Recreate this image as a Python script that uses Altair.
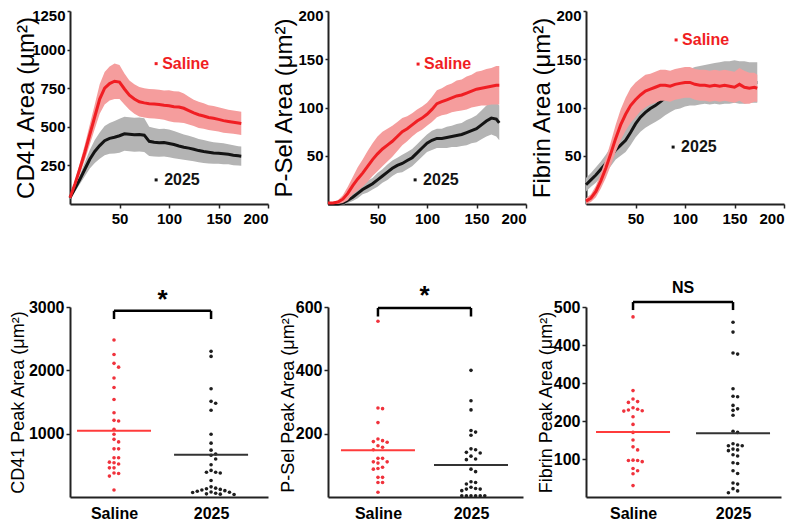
import altair as alt
import pandas as pd

FONT = "Liberation Sans"
RED = "#f01e23"
RED_BAND = "#f59d9d"
GREY_BAND = "#b4b4b4"
BLACK = "#141414"
GROUPS = ["Saline", "2025"]

# ---------------- time courses (time, mean, half-band) ----------------
T = [0, 5, 10, 15, 20, 25, 30, 35, 40, 45, 50, 55, 60, 65, 70, 75, 80, 85, 90, 95,
     100, 105, 110, 115, 120, 125, 130, 135, 140, 145, 150, 155, 160, 165, 170, 173]

cd41_sal_mean = [40, 130, 230, 335, 450, 565, 680, 750, 780, 795, 790, 745, 705, 680, 662, 655, 650, 648, 645, 640,
                 636, 630, 628, 620, 605, 590, 578, 570, 560, 555, 548, 540, 535, 530, 525, 522]
cd41_sal_sem = [10, 20, 35, 50, 65, 80, 95, 105, 110, 115, 110, 100, 95, 95, 95, 95, 95, 95, 95, 95,
                100, 100, 100, 95, 90, 85, 85, 82, 80, 80, 78, 78, 76, 75, 75, 75]
cd41_d_mean = [40, 100, 160, 225, 290, 340, 378, 410, 425, 432, 442, 455, 452, 448, 450, 446, 406, 400, 396, 398,
               392, 385, 376, 368, 362, 355, 346, 340, 335, 330, 328, 325, 322, 316, 312, 310]
cd41_d_sem = [10, 20, 30, 45, 60, 75, 85, 95, 100, 105, 110, 110, 110, 110, 110, 110, 95, 92, 90, 90,
              90, 88, 85, 82, 80, 78, 75, 75, 72, 70, 68, 68, 65, 65, 62, 62]

psel_sal_mean = [1, 1, 2, 5, 11, 19, 26, 32, 39, 46, 52, 57, 61, 65, 70, 75, 78, 82, 86, 89,
                 93, 98, 104, 106, 108, 110, 112, 113, 115, 117, 119, 120, 121, 122, 123, 123]
psel_sal_sem = [1, 1, 2, 4, 7, 9, 12, 14, 16, 17, 18, 18, 17, 16, 15, 14, 13, 12, 12, 12,
                12, 13, 14, 14, 15, 15, 16, 16, 17, 17, 18, 18, 19, 19, 20, 20]
psel_d_mean = [0, 0, 0, 1, 4, 7, 11, 15, 18, 21, 25, 29, 33, 37, 40, 42, 45, 48, 53, 58,
               63, 66, 68, 68, 69, 70, 71, 72, 74, 76, 78, 82, 86, 89, 88, 84]
psel_d_sem = [0.5, 0.5, 1, 2, 3, 4, 5, 5, 6, 6, 7, 7, 8, 8, 8, 9, 9, 9, 9, 9,
              9, 10, 10, 10, 11, 11, 12, 12, 13, 13, 14, 15, 16, 17, 18, 18]

fib_sal_mean = [3, 6, 13, 24, 37, 52, 68, 82, 93, 102, 108, 113, 117, 119, 121, 123, 123, 122, 124, 125,
                126, 126, 124, 123, 123, 122, 123, 122, 123, 122, 121, 124, 121, 120, 121, 120]
fib_sal_sem = [3, 4, 6, 8, 10, 12, 14, 16, 17, 18, 18, 17, 17, 16, 16, 16, 16, 16, 16, 16,
               16, 16, 16, 16, 16, 16, 16, 16, 16, 16, 16, 17, 17, 16, 15, 14]
fib_d_mean = [20, 25, 30, 36, 42, 49, 56, 61, 66, 74, 83, 90, 95, 99, 102, 106, 110, 113, 116, 118,
              120, 121, 122, 123, 124, 124, 125, 125, 126, 126, 127, 126, 126, 126, 126, 126]
fib_d_sem = [7, 7, 8, 8, 9, 10, 10, 11, 12, 13, 14, 15, 16, 17, 17, 18, 18, 18, 18, 19,
             19, 19, 20, 20, 20, 21, 21, 22, 22, 22, 22, 22, 22, 21, 21, 21]

# label anchor points (time, value) for the in-plot labels
cd41_labels = {"Saline": (87, 909), "2025": (87, 156)}
psel_labels = {"Saline": (91, 145), "2025": (88, 25)}
fib_labels = {"Saline": (91, 170), "2025": (88, 59)}

# ---------------- peak areas ----------------
cd41_peak_sal = [2480, 2250, 2110, 2050, 1880, 1730, 1540, 1330, 1210, 1200, 1070, 990, 910, 870,
                 760, 760, 620, 620, 550, 540, 520, 460, 460, 380, 370, 330, 110]
cd41_peak_2025 = [2300, 2220, 1710, 1510, 1480, 1370, 990, 850, 740, 680, 660, 600, 510, 420, 390, 390,
                  380, 260, 160, 140, 130, 120, 110, 100, 90, 80, 75, 70, 60, 50, 45, 40]
psel_peak_sal = [555, 281, 279, 235, 183, 178, 175, 173, 162, 157, 149, 122, 122, 111, 111, 107,
                 94, 90, 88, 62, 62, 46, 46, 15]
psel_peak_2025 = [400, 304, 275, 210, 205, 195, 152, 149, 141, 139, 129, 120, 118, 88, 80, 48, 46, 41,
                  31, 27, 25, 25, 20, 4, 4, 4, 4, 4, 4]
fib_peak_sal = [474, 280, 258, 251, 249, 235, 231, 229, 227, 226, 211, 191, 170, 150, 132, 124,
                97, 96, 96, 93, 75, 69, 61, 30]
fib_peak_2025 = [460, 434, 379, 376, 285, 265, 264, 241, 232, 228, 215, 173, 170, 140, 137, 135, 135,
                 126, 124, 122, 111, 108, 90, 88, 69, 62, 37, 34, 22, 16, 11]

cd41_means = [1048, 667]
psel_means = [148, 101]
fib_means = [171, 168]

# significance annotations: bracket top, bracket tick bottom, text level, text
cd41_sig = (2940, 2810, 3190, "*")
psel_sig = (597, 570, 649, "*")
fib_sig = (513, 492, 550, "NS")


def top_panel(title, ydom, yvals, sm, ss, dm, ds, labels, width=198, height=193):
    df = pd.DataFrame({"t": T, "sm": sm, "ss": ss, "dm": dm, "ds": ds})
    base = alt.Chart(df).transform_calculate(
        slo="datum.sm - datum.ss", shi="datum.sm + datum.ss",
        dlo="datum.dm - datum.ds", dhi="datum.dm + datum.ds")
    xax = alt.Axis(values=[50, 100, 150, 200], title=None, labelFontSize=15,
                   labelPadding=3, tickSize=4, format="d")
    yax = alt.Axis(values=yvals, title=title, titleFontSize=24, labelFontSize=15,
                   labelFlush=True, labelFlushOffset=3, tickSize=3, labelPadding=2,
                   titleX=-44, titleBaseline="middle", format="d")

    def X():
        return alt.X("t:Q", scale=alt.Scale(domain=[0, 200]), axis=xax)

    def Y(f):
        return alt.Y(f, type="quantitative", scale=alt.Scale(domain=ydom), axis=yax)

    gb = base.mark_area(color=GREY_BAND).encode(x=X(), y=Y("dlo"), y2="dhi")
    bl = base.mark_line(color=BLACK, strokeWidth=3).encode(x=X(), y=Y("dm"))
    rb = base.mark_area(color=RED_BAND).encode(x=X(), y=Y("slo"), y2="shi")
    rl = base.mark_line(color=RED, strokeWidth=3).encode(x=X(), y=Y("sm"))
    layers = [gb, bl, rb, rl]
    for name, col, dx in (("Saline", RED, 6), ("2025", BLACK, 8)):
        t, v = labels[name]
        ldf = pd.DataFrame({"t": [t], "v": [v], "txt": [name]})
        lb = alt.Chart(ldf)
        layers.append(lb.mark_square(size=9, color=col, opacity=1).encode(x=X(), y=Y("v")))
        layers.append(lb.mark_text(align="left", baseline="middle", dx=dx, fontSize=16,
                                   fontWeight="bold", font=FONT, color=col)
                      .encode(x=X(), y=Y("v"), text="txt:N"))
    return alt.layer(*layers).properties(width=width, height=height)


def swarm(values, ymax, height, d=4.6):
    ys = [v / ymax * height for v in values]
    order = sorted(range(len(values)), key=lambda i: -values[i])
    placed = []
    offs = [0.0] * len(values)
    cands = [0.0]
    for j in range(1, 12):
        cands += [j * d, -j * d]
    for i in order:
        y = ys[i]
        chosen = cands[-1]
        for c in cands:
            if all((c - ox) ** 2 + (y - oy) ** 2 >= d * d * 0.95 for ox, oy in placed):
                chosen = c
                break
        placed.append((chosen, y))
        offs[i] = chosen
    return offs


def bottom_panel(title, ymax, yvals, sal, d25, means, sig, width, pad, align, title_x,
                 label_expr=None, height=190):
    so = swarm(sal, ymax, height)
    do = swarm(d25, ymax, height)
    pts = pd.DataFrame({"g": ["Saline"] * len(sal) + ["2025"] * len(d25),
                        "v": sal + d25, "off": so + do})
    xax = alt.Axis(title=None, ticks=False, labelFontSize=16, labelPadding=8, labelAngle=0)
    yargs = dict(values=yvals, title=title, titleFontSize=18, labelFontSize=16, tickSize=4,
                 labelPadding=2, titleX=title_x, titleBaseline="middle", format="d")
    if label_expr:
        yargs["labelExpr"] = label_expr
    yax = alt.Axis(**yargs)

    def X(f="g"):
        return alt.X(f, type="nominal",
                     scale=alt.Scale(type="point", domain=GROUPS, padding=pad, align=align),
                     axis=xax)

    def Y(f):
        return alt.Y(f, type="quantitative", scale=alt.Scale(domain=[0, ymax]), axis=yax)

    step = width / (1 + 2 * pad)
    base = alt.Chart(pts)
    rp = base.transform_filter(alt.datum.g == "Saline").mark_circle(
        size=13, color="#f0323c", opacity=1).encode(x=X(), y=Y("v"),
                                                    xOffset=alt.XOffset("off:Q", scale=None))
    bp = base.transform_filter(alt.datum.g == "2025").mark_circle(
        size=13, color="#1e1e1e", opacity=1).encode(x=X(), y=Y("v"),
                                                    xOffset=alt.XOffset("off:Q", scale=None))
    mdf = pd.DataFrame({"g": GROUPS, "m": means})
    mb = alt.Chart(mdf)
    ml_r = mb.transform_filter(alt.datum.g == "Saline").mark_tick(
        size=74, thickness=2, color="#ff3b3b", opacity=1).encode(x=X(), y=Y("m"))
    ml_b = mb.transform_filter(alt.datum.g == "2025").mark_tick(
        size=74, thickness=2, color="#333333", opacity=1).encode(x=X(), y=Y("m"))
    ytop, ybot, ytxt, txt = sig
    hdf = pd.DataFrame({"g": ["Saline"], "g2": ["2025"], "yt": [ytop]})
    hb = alt.Chart(hdf).mark_rule(color="black", strokeWidth=2.5).encode(
        x=X(), x2=alt.X2("g2"), y=Y("yt"))
    vdf = pd.DataFrame({"g": GROUPS, "yt": [ytop, ytop], "yb": [ybot, ybot]})
    vb = alt.Chart(vdf).mark_rule(color="black", strokeWidth=2.5).encode(
        x=X(), y=Y("yt"), y2=alt.Y2("yb"))
    tdf = pd.DataFrame({"g": ["Saline"], "y": [ytxt], "txt": [txt]})
    is_star = txt == "*"
    tt = alt.Chart(tdf).mark_text(dx=step / 2, baseline="middle", font=FONT,
                                  fontSize=26 if is_star else 16, fontWeight="bold",
                                  dy=5 if is_star else 0, color="black").encode(
        x=X(), y=Y("y"), text="txt:N")
    return alt.layer(rp, bp, ml_r, ml_b, hb, vb, tt).properties(width=width, height=height)


a1 = top_panel("CD41 Area (μm²)", [0, 1250], [250, 500, 750, 1000, 1250],
               cd41_sal_mean, cd41_sal_sem, cd41_d_mean, cd41_d_sem, cd41_labels)
a2 = top_panel("P-Sel Area (μm²)", [0, 200], [50, 100, 150, 200],
               psel_sal_mean, psel_sal_sem, psel_d_mean, psel_d_sem, psel_labels)
a3 = top_panel("Fibrin Area (μm²)", [0, 200], [50, 100, 150, 200],
               fib_sal_mean, fib_sal_sem, fib_d_mean, fib_d_sem, fib_labels)

b1 = bottom_panel("CD41 Peak Area (μm²)", 3000, [1000, 2000, 3000], cd41_peak_sal, cd41_peak_2025,
                  cd41_means, cd41_sig, width=198, pad=0.52, align=0.436, title_x=-52)
b2 = bottom_panel("P-Sel Peak Area (μm²)", 600, [200, 400, 600], psel_peak_sal, psel_peak_2025,
                  psel_means, psel_sig, width=195, pad=0.548, align=0.49, title_x=-40)
b3 = bottom_panel("Fibrin Peak Area (μm²)", 500, [100, 200, 300, 400, 500], fib_peak_sal, fib_peak_2025,
                  fib_means, fib_sig, width=195, pad=0.475, align=0.495, title_x=-40,
                  label_expr="datum.value == 300 ? '400' : datum.label")

chart = alt.concat(a1, a2, a3, b1, b2, b3, columns=3, bounds="flush",
                   spacing={"row": 103, "column": 60}).properties(
    padding={"left": 0, "top": 0, "right": 5, "bottom": 5}
).configure_view(stroke=None).configure_axis(
    labelFont=FONT, titleFont=FONT, labelFontWeight="bold", titleFontWeight="normal",
    labelColor="black", titleColor="black", domainColor="#222222", tickColor="#222222",
    domainWidth=2, tickWidth=1.5, grid=False
)

chart.save("out.html", embed_options={"renderer": "svg", "actions": False})
